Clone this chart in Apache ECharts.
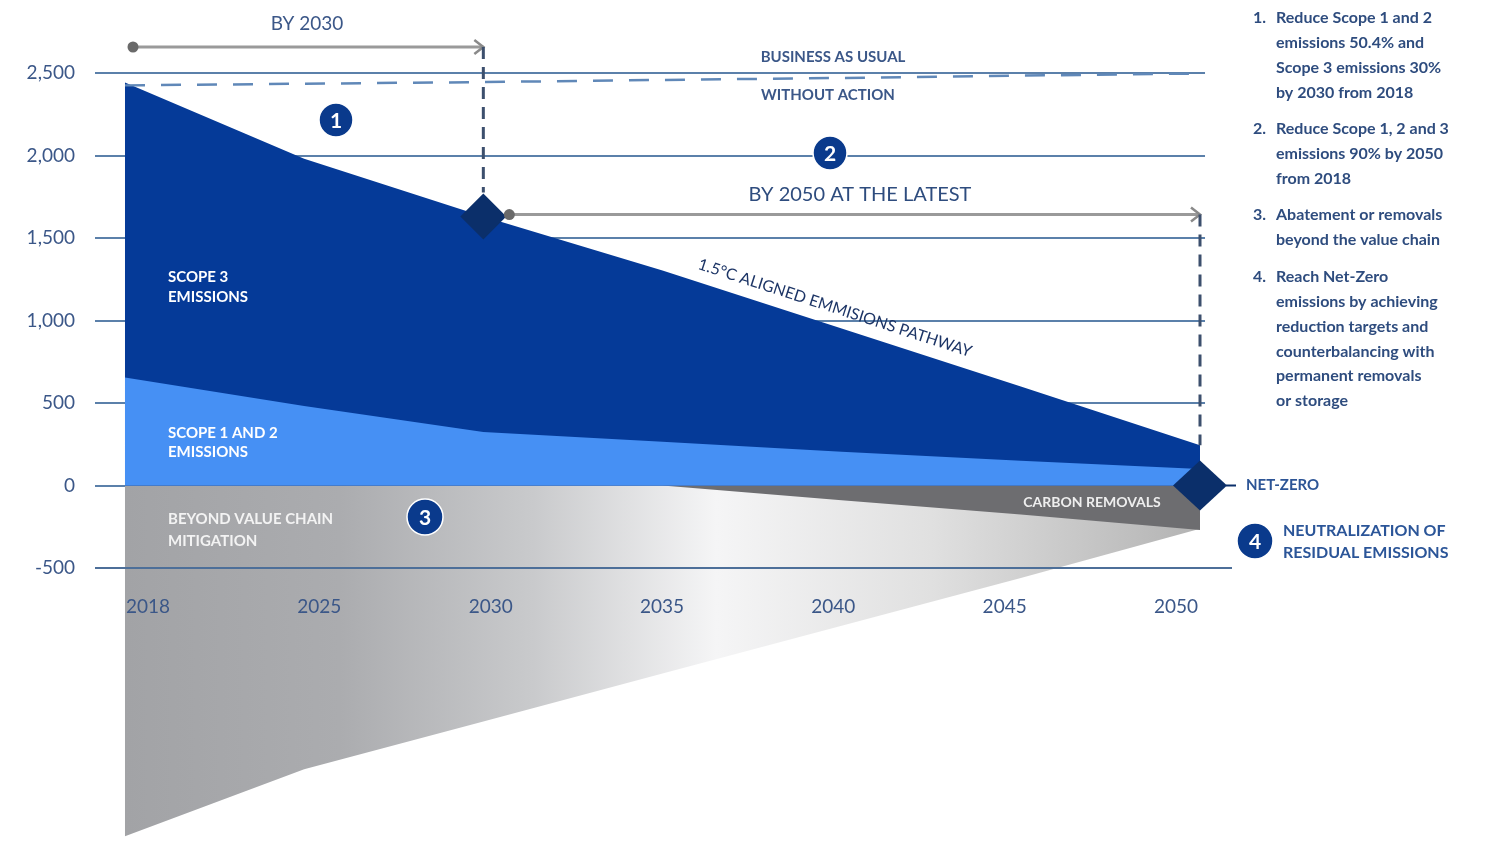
<!DOCTYPE html>
<html><head><meta charset="utf-8">
<script src="https://cdn.jsdelivr.net/npm/echarts@6/dist/echarts.min.js"></script>
<style>html,body{margin:0;padding:0;background:#fff}#c{width:1486px;height:843px}</style>
</head><body><div id="c"></div>
<script>
// ---- data ----
const years = ['2018', '2025', '2030', '2035', '2040', '2045', '2050'];
const scope12 = [655, 482, 325, 265, 205, 150, 100];
const scope3 = [1787, 1498, 1305, 1038, 747, 450, 144];
const businessAsUsual = [2425, 2435, 2445, 2458, 2470, 2484, 2497];
const carbonRemovals = [null, null, null, 0, -90, -175, -270];
const beyondValueChain = [-2125, -1720, -1430, -1140, -850, -560, -262];
const yTicks = [-500, 0, 500, 1000, 1500, 2000, 2500];
const goals = [
  ['1.', ['Reduce Scope 1 and 2', 'emissions 50.4% and', 'Scope 3 emissions 30%', 'by 2030 from 2018']],
  ['2.', ['Reduce Scope 1, 2 and 3', 'emissions 90% by 2050', 'from 2018']],
  ['3.', ['Abatement or removals', 'beyond the value chain']],
  ['4.', ['Reach Net-Zero', 'emissions by achieving', 'reduction targets and', 'counterbalancing with', 'permanent removals', 'or storage']]
];

// ---- chart ----
const FONT = 'Lato';
const TXT = '#2e4c7e';
const X_MIN = -0.1674, X_MAX = 6.1786, X_GRID_END = 6.028;
// scope 3 sits on top of scope 1 and 2: its upper edge is the sum of both
const total = scope12.map((v, i) => v + scope3[i]);
const pts = arr => arr.map((v, i) => [i, v]);

const chart = echarts.init(document.getElementById('c'), null, { renderer: 'canvas' });

const option = {
  animation: false,
  backgroundColor: '#ffffff',
  textStyle: { fontFamily: FONT },
  grid: [
    { left: 95, right: 254, top: -9.5, bottom: -55, containLabel: false, outerBoundsMode: 'none' },
    { left: 62.35, right: 224.35, top: 580, height: 14, containLabel: false, outerBoundsMode: 'none' }
  ],
  xAxis: [
    { type: 'value', gridIndex: 0, min: X_MIN, max: X_MAX, show: false, splitLine: { show: false } },
    { type: 'category', gridIndex: 1, data: years, boundaryGap: true, z: 20,
      axisLine: { show: false }, axisTick: { show: false }, splitLine: { show: false },
      axisLabel: { color: '#3b5788', fontSize: 19, fontFamily: FONT, margin: 3 } }
  ],
  yAxis: [
    { type: 'value', gridIndex: 0, min: -2500, max: 3000, interval: 500,
      axisLine: { show: false }, axisTick: { show: false }, splitLine: { show: false },
      axisLabel: { color: '#3b5788', fontSize: 19, fontFamily: FONT, margin: 20,
        formatter: v => yTicks.includes(v) ? v.toLocaleString('en-US') : '',
        padding: [0, 0, 6, 0] } },
    { type: 'value', gridIndex: 1, show: false }
  ],
  series: [
    { name: 'gridlines', type: 'line', data: [], z: 1, silent: true,
      markLine: { silent: true, z: 0, symbol: ['none', 'none'], label: { show: false },
        lineStyle: { color: '#5b80aa', width: 2, type: 'solid' },
        data: yTicks.filter(v => v !== -500).map(v => [{ coord: [X_MIN, v] }, { coord: [X_GRID_END, v] }]) } },
    { name: 'Beyond value chain mitigation', type: 'line', data: pts(beyondValueChain), z: 2,
      symbol: 'none', lineStyle: { width: 0, opacity: 0 },
      areaStyle: { opacity: 1, color: { type: 'linear', x: 0, y: 0, x2: 1, y2: 0, colorStops: [
        { offset: 0, color: '#a2a3a6' }, { offset: 0.2, color: '#abacaf' }, { offset: 0.38, color: '#c9cacc' },
        { offset: 0.55, color: '#f5f5f6' }, { offset: 0.75, color: '#e0e0e0' }, { offset: 1, color: '#b3b3b3' }] } } },
    { name: 'Carbon removals', type: 'line', data: pts(carbonRemovals), z: 3,
      symbol: 'none', lineStyle: { width: 0, opacity: 0 }, areaStyle: { opacity: 1, color: '#6d6d70' } },
    { name: 'Scope 3', type: 'line', data: pts(total), z: 3,
      symbol: 'none', lineStyle: { width: 0, opacity: 0 }, areaStyle: { opacity: 1, color: '#053a98' } },
    { name: 'Scope 1 and 2', type: 'line', data: pts(scope12), z: 3,
      symbol: 'none', lineStyle: { width: 0, opacity: 0 }, areaStyle: { opacity: 1, color: '#4690f4' } },
    { name: 'Business as usual', type: 'line', data: pts(businessAsUsual), z: 4,
      symbol: 'none', lineStyle: { color: '#6088b8', width: 2.5, type: [20, 16] } },
    { name: 'axis -500', type: 'line', data: [], z: 5, silent: true,
      markLine: { silent: true, symbol: ['none', 'none'], label: { show: false },
        lineStyle: { color: '#4d6f99', width: 2, type: 'solid' },
        data: [[{ coord: [X_MIN, -500] }, { coord: [X_MAX, -500] }]] } },
    { name: 'milestones', type: 'scatter', z: 6, symbol: 'diamond',
      data: [
        { value: [2, total[2]], symbolSize: [46, 46] },
        { value: [6, 0], symbolSize: [54, 50] }
      ],
      itemStyle: { color: '#0b2f6a', opacity: 1 } }
  ]
};
chart.setOption(option);

// ---- annotations (positions derived from the axes where tied to data) ----
const toPx = p => chart.convertToPixel({ gridIndex: 0 }, p);
const p18 = toPx([0, 0]);
const p30 = toPx([2, total[2]]);
const p50 = toPx([6, total[6]]);
const pNZ = toPx([6, 0]);
const yArrow1 = 47, yArrow2 = p30[1] - 2;
const G = [];
const Z = 100;
function text(x, y, t, o) {
  o = o || {};
  G.push({ type: 'text', x: x, y: y, z: Z, rotation: o.rotation || 0, silent: true,
    style: { text: t, fill: o.color || TXT, fontSize: o.size || 16, fontWeight: o.weight || 'bold',
      fontFamily: o.family || FONT, fontStyle: o.style || 'normal',
      align: o.align || 'left', verticalAlign: 'middle' } });
}
function line(x1, y1, x2, y2, color, w, dash) {
  G.push({ type: 'line', z: Z, silent: true, shape: { x1, y1, x2, y2 },
    style: { stroke: color, lineWidth: w, lineDash: dash || null } });
}
function arrow(x1, x2, y) {
  line(x1, y, x2, y, '#9a9a9a', 3);
  G.push({ type: 'polyline', z: Z, silent: true, shape: { points: [[x2 - 9, y - 7], [x2, y], [x2 - 9, y + 7]] },
    style: { stroke: '#8a8a8a', lineWidth: 2.5, fill: null } });
  G.push({ type: 'circle', z: Z + 1, silent: true, shape: { cx: x1, cy: y, r: 5.5 }, style: { fill: '#6a6a6a' } });
}
function badge(cx, cy, r, n) {
  G.push({ type: 'circle', z: Z, silent: true, shape: { cx, cy, r }, style: { fill: '#0a3a8c', stroke: '#ffffff', lineWidth: 1.5 } });
  text(cx, cy + 1, n, { color: '#ffffff', size: 21, align: 'center' });
}

// arrows and dashed guides
arrow(p18[0] + 8, p30[0], yArrow1);
line(p30[0], yArrow1, p30[0], p30[1] - 24, '#3c4f6d', 3, [12, 8]);
arrow(p30[0] + 26, p50[0], yArrow2);
line(p50[0], yArrow2, p50[0], p50[1], '#3c4f6d', 3, [12, 8]);

// headings
text(307, 24, 'BY 2030', { size: 19, weight: 'normal', color: '#3b5788', align: 'center' });
text(833, 57, 'BUSINESS AS USUAL', { size: 15, color: '#3b5788', align: 'center' });
text(828, 95, 'WITHOUT ACTION', { size: 15, color: '#3b5788', align: 'center' });
text(860, 195, 'BY 2050 AT THE LATEST', { size: 20, weight: 'normal', color: '#2e4c7e', align: 'center' });
text(835, 308, '1.5°C ALIGNED EMMISIONS PATHWAY', { size: 16, weight: 'normal', color: '#1d3566', align: 'center',
  rotation: -0.313 });

// area labels
text(168, 277, 'SCOPE 3', { size: 15, color: '#ffffff' });
text(168, 297, 'EMISSIONS', { size: 15, color: '#ffffff' });
text(168, 433, 'SCOPE 1 AND 2', { size: 15, color: '#ffffff' });
text(168, 452, 'EMISSIONS', { size: 15, color: '#ffffff' });
text(168, 519, 'BEYOND VALUE CHAIN', { size: 15, color: '#f3f3f3' });
text(168, 541, 'MITIGATION', { size: 15, color: '#f3f3f3' });
text(1092, 502, 'CARBON REMOVALS', { size: 14, color: '#eeeeee', align: 'center' });
text(pNZ[0] + 46, pNZ[1], 'NET-ZERO', { size: 15, color: '#2d5596' });
line(pNZ[0] + 26, pNZ[1], pNZ[0] + 36, pNZ[1], '#0b2f6a', 2);
text(1283, 531, 'NEUTRALIZATION OF', { size: 16, color: '#2b5598' });
text(1283, 553, 'RESIDUAL EMISSIONS', { size: 16, color: '#2b5598' });

// numbered badges
badge(336, 120, 17, '1');
badge(830, 153, 17, '2');
badge(425, 517, 18, '3');
badge(1255, 541, 18, '4');

// goals list
const startY = [18, 129, 215, 277];
goals.forEach((g, gi) => {
  text(1253, startY[gi], g[0], { size: 16, color: TXT });
  g[1].forEach((l, li) => text(1276, startY[gi] + li * 24.8, l, { size: 16, color: TXT }));
});

chart.setOption({ graphic: { elements: G } });
</script>
</body></html>
